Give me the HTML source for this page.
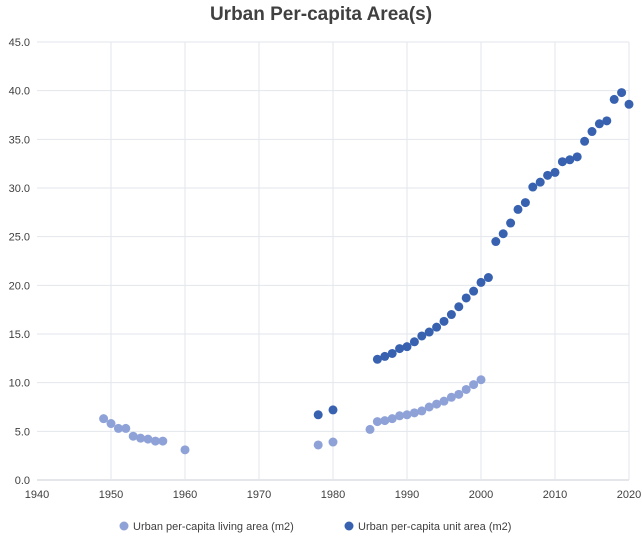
<!DOCTYPE html>
<html><head><meta charset="utf-8"><style>
body{margin:0;background:#fff;font-family:"Liberation Sans",sans-serif}
svg text{font-family:"Liberation Sans",sans-serif}
</style></head><body>
<svg id="c" width="642" height="534">
<text x="321" y="20" text-anchor="middle" font-size="19" font-weight="bold" fill="#404040">Urban Per-capita Area(s)</text>
<g id="grid"></g><g id="pts"></g>
<g>
<circle cx="124" cy="526" r="4.5" fill="#8fa2d8"/>
<text x="133" y="530" font-size="11" fill="#404040">Urban per-capita living area (m2)</text>
<circle cx="349" cy="526" r="4.5" fill="#3862b0"/>
<text x="358" y="530" font-size="11" fill="#404040">Urban per-capita unit area (m2)</text>
</g>
</svg>
<script>
const yTicks=[0,5,10,15,20,25,30,35,40,45];
const xTicks=[1940,1950,1960,1970,1980,1990,2000,2010,2020];
const livingYears=[1949,1950,1951,1952,1953,1954,1955,1956,1957,1960,1978,1980,1985,1986,1987,1988,1989,1990,1991,1992,1993,1994,1995,1996,1997,1998,1999,2000];
const livingVals=[6.3,5.8,5.3,5.3,4.5,4.3,4.2,4.0,4.0,3.1,3.6,3.9,5.2,6.0,6.1,6.3,6.6,6.7,6.9,7.1,7.5,7.8,8.1,8.5,8.8,9.3,9.8,10.3];
const unitYears=[1978,1980,1986,1987,1988,1989,1990,1991,1992,1993,1994,1995,1996,1997,1998,1999,2000,2001,2002,2003,2004,2005,2006,2007,2008,2009,2010,2011,2012,2013,2014,2015,2016,2017,2018,2019,2020];
const unitVals=[6.7,7.2,12.4,12.7,13.0,13.5,13.7,14.2,14.8,15.2,15.7,16.3,17.0,17.8,18.7,19.4,20.3,20.8,24.5,25.3,26.4,27.8,28.5,30.1,30.6,31.3,31.6,32.7,32.9,33.2,34.8,35.8,36.6,36.9,39.1,39.8,38.6];
const L=37,R=629,T=42,B=480;
const X=v=>L+(v-1940)/80*(R-L), Y=v=>B-v/45*(B-T);
const NS="http://www.w3.org/2000/svg";
const g=document.getElementById('grid'), p=document.getElementById('pts');
function mk(tag,a,par){const e=document.createElementNS(NS,tag);for(const k in a)e.setAttribute(k,a[k]);par.appendChild(e);return e;}
yTicks.forEach(t=>{
 const l=mk('line',{x1:L,x2:R,y1:Y(t),y2:Y(t),stroke:t===0?'#c8ccd4':'#e3e6ec','stroke-width':1},g);
 
 
 const s=mk('text',{x:L-7,y:Y(t)+4,'text-anchor':'end','font-size':11,fill:'#404040'},g);
 s.textContent=t.toFixed(1);
 
 
});
xTicks.forEach(t=>{
 if(t>1940){const l=mk('line',{x1:X(t),x2:X(t),y1:T,y2:B,stroke:'#e3e6ec','stroke-width':1},g);
 
 }
 const s=mk('text',{x:X(t),y:B+18,'text-anchor':'middle','font-size':11,fill:'#404040'},g);
 s.textContent=t;
 
 
});
livingYears.forEach((yr,i)=>{
 const c=mk('circle',{cx:X(yr),cy:Y(livingVals[i]),r:4.5,fill:'#8fa2d8'},p);
 
 
});
unitYears.forEach((yr,i)=>{
 const c=mk('circle',{cx:X(yr),cy:Y(unitVals[i]),r:4.5,fill:'#3862b0'},p);
 
 
});
</script>
</body></html>
